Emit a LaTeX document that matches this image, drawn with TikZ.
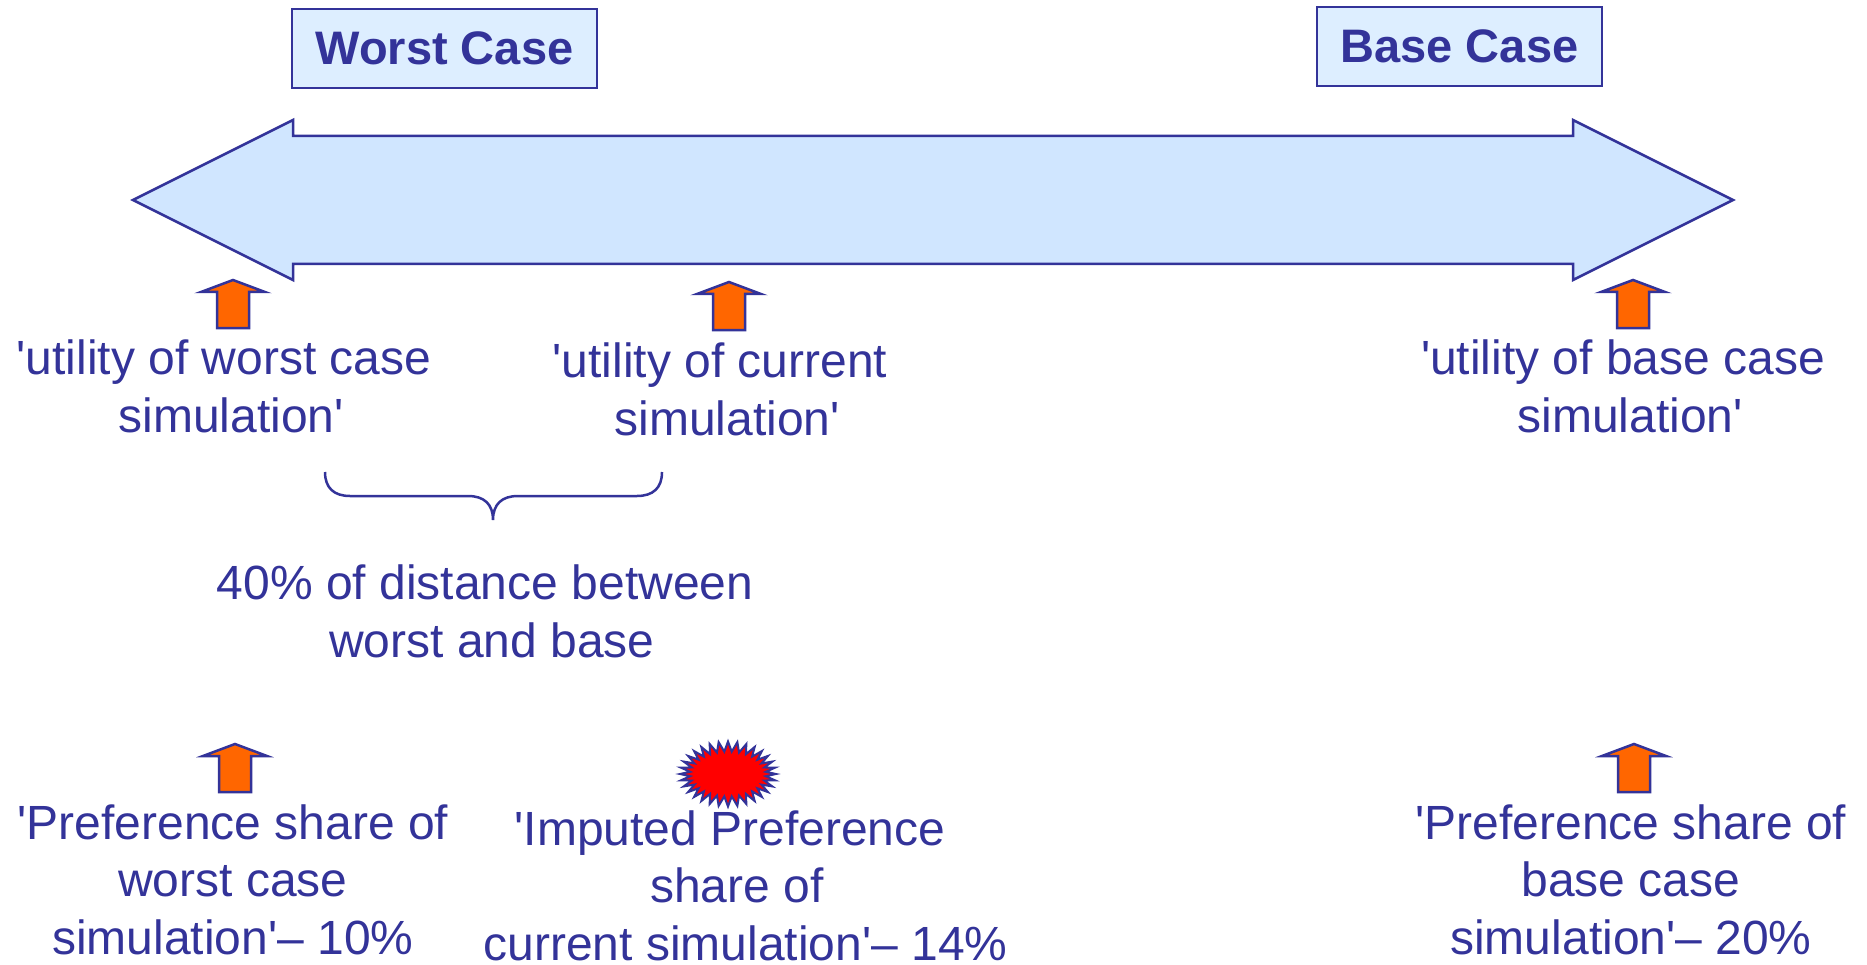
\documentclass[tikz,border=0pt]{standalone}
\usepackage{fontspec}
\setmainfont{Liberation Sans}
\definecolor{tblue}{RGB}{51,51,153}
\definecolor{afill}{RGB}{208,230,255}
\definecolor{bfill}{RGB}{221,238,255}
\definecolor{aorange}{RGB}{255,102,0}
\definecolor{sred}{RGB}{255,0,0}
\newcommand\myq{\textquotesingle}
\newcommand\myshift[1]{\hspace*{#1pt}}
\tikzset{
  lbl/.style={text=tblue, font=\fontsize{48}{57.5}\selectfont, align=center, inner sep=0pt, anchor=base},
  casebox/.style={draw=tblue, line width=2pt, fill=bfill, text=tblue, font=\fontsize{47}{56}\selectfont\bfseries, inner sep=0pt, minimum height=79pt},
  outl/.style={draw=tblue, line width=2.5pt, line join=miter},
  pics/uparrow/.style={code={
    \draw[outl, fill=aorange] (0,0) -- (32,12) -- (16,12) -- (16,48) -- (-16,48) -- (-16,12) -- (-32,12) -- cycle;
  }}
}
\begin{document}
\begin{tikzpicture}[x=1pt,y=-1pt]
\useasboundingbox (0,0) rectangle (1867,965);
% boxes
\node[casebox, minimum width=305pt] (worst) at (444.5,48.5) {Worst Case};
\node[casebox, minimum width=285pt] (base) at (1459.5,46.5) {Base Case};
% big double arrow
\draw[outl, fill=afill] (133,200) -- (293,120) -- (293,136) -- (1573,136) -- (1573,120) -- (1733,200) -- (1573,280) -- (1573,264) -- (293,264) -- (293,280) -- cycle;
% small arrows
\pic at (233,280) {uparrow};
\pic at (729,282) {uparrow};
\pic at (1633,280) {uparrow};
\pic at (235,744) {uparrow};
\pic at (1634,744) {uparrow};
% star
\draw[draw=tblue, line width=2pt, fill=sred] plot[domain=0:360, samples=65] ({728+(43+5*cos(32*\x))*cos(\x)}, {774+(27.5+5*cos(32*\x))*sin(\x)}) -- cycle;
% texts (anchor base = last line)
\node[lbl] (uw) at (224,432) {\myq utility of worst case\\\myshift{14}simulation\myq};
\node[lbl] (uc) at (720,435) {\myq utility of current\\\myshift{14}simulation\myq};
\node[lbl] (ub) at (1623,432) {\myq utility of base case\\\myshift{14}simulation\myq};
\node[lbl] (dist) at (485,657) {40\% of distance between\\\myshift{14}worst and base};
\node[lbl] (pw) at (233,954) {\myq Preference share of\\worst case\\simulation\myq– 10\%};
\node[lbl] (pc) at (730,960) {\myq Imputed Preference\\\myshift{14}share of\\\myshift{31}current simulation\myq– 14\%};
\node[lbl] (pb) at (1631,954) {\myq Preference share of\\base case\\simulation\myq– 20\%};
% brace
\draw[tblue, line width=2.5pt] (325,472) .. controls (325,488) and (334,496) .. (350,496) -- (468,496) .. controls (484,496) and (493,504) .. (493,520) .. controls (493,504) and (502,496) .. (518,496) -- (637,496) .. controls (653,496) and (662,488) .. (662,472);
\end{tikzpicture}
\end{document}
